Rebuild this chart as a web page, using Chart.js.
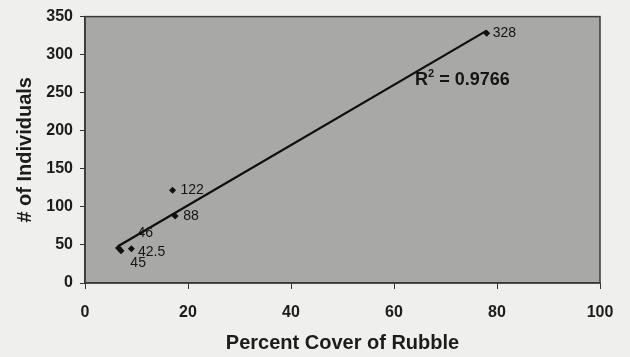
<!DOCTYPE html>
<html>
<head>
<meta charset="utf-8">
<script src="https://cdn.jsdelivr.net/npm/chart.js@4.4.1/dist/chart.umd.min.js"></script>
<style>
html,body{margin:0;padding:0;background:#efefed;}
#wrap{width:630px;height:357px;}
</style>
</head>
<body>
<div id="wrap"><canvas id="mainChart" width="630" height="357"></canvas></div>
<script>

/* DATA */

const coverX = [6.5, 7, 9, 17.5, 17, 78];

const individualsY = [46, 42.5, 45, 88, 122, 328];

const pointLabels = ["46", "42.5", "45", "88", "122", "328"];

const xTicks = [0, 20, 40, 60, 80, 100];

const yTicks = [0, 50, 100, 150, 200, 250, 300, 350];

const rSquaredText = "0.9766";

/* LINEAR TREND */

const n = coverX.length;
const mx = coverX.reduce((a,b)=>a+b,0)/n;
const my = individualsY.reduce((a,b)=>a+b,0)/n;
let sxy = 0, sxx = 0;
for(let i=0;i<n;i++){
sxy += (coverX[i]-mx)*(individualsY[i]-my);
sxx += (coverX[i]-mx)*(coverX[i]-mx);
}
const slope = sxy/sxx;
const icpt = my - slope*mx;
const xMin = Math.min(...coverX);
const xMax = Math.max(...coverX);

const trend = [
{x:xMin, y:icpt+slope*xMin},
{x:xMax, y:icpt+slope*xMax}
];

const points = coverX.map((x,i)=>({x:x, y:individualsY[i]}));

/* PLOT AREA BACKGROUND + FRAME */

const plotBg = {
id:"plotBg",
beforeDraw(chart){
const {ctx, chartArea:a} = chart;
ctx.save();
ctx.fillStyle = "#a8a8a6";
ctx.fillRect(a.left, a.top, a.right-a.left, a.bottom-a.top);
ctx.restore();
},
afterDraw(chart){
const {ctx, chartArea:a} = chart;
ctx.save();
ctx.strokeStyle = "#3a3a3a";
ctx.lineWidth = 1.5;
ctx.strokeRect(a.left, a.top, a.right-a.left, a.bottom-a.top);
ctx.restore();
}
};

/* DATA LABELS + R SQUARED */

const labelOffsets = [[19,-15],[17,1],[-1,14],[8,0],[8,0],[6,0]];

const labels = {
id:"labels",
afterDatasetsDraw(chart){
const ctx = chart.ctx;
const meta = chart.getDatasetMeta(1);
ctx.save();
ctx.fillStyle = "#151515";
ctx.font = "14px 'Liberation Sans', Arial, sans-serif";
ctx.textBaseline = "middle";
ctx.textAlign = "left";
meta.data.forEach((el,i)=>{
const o = labelOffsets[i];
ctx.fillText(pointLabels[i], el.x+o[0], el.y+o[1]);
});

const sx = chart.scales.x.getPixelForValue(64.1);
const sy = chart.scales.y.getPixelForValue(260);
ctx.textBaseline = "alphabetic";
ctx.font = "bold 18px 'Liberation Sans', Arial, sans-serif";
ctx.fillText("R", sx, sy);
let w = ctx.measureText("R").width;
ctx.font = "bold 11px 'Liberation Sans', Arial, sans-serif";
ctx.fillText("2", sx+w, sy-8);
w += ctx.measureText("2").width;
ctx.font = "bold 18px 'Liberation Sans', Arial, sans-serif";
ctx.fillText(" = " + rSquaredText, sx+w, sy);
ctx.restore();
}
};

/* CHART SETUP */

const tickFont = {family:"'Liberation Sans', Arial, sans-serif", size:16, weight:"bold"};
const titleFont = {family:"'Liberation Sans', Arial, sans-serif", size:20, weight:"bold"};

const chart = new Chart(document.getElementById("mainChart"), {

type:"scatter",

data:{

datasets:[

{
type:"line",
data:trend,
borderColor:"#0e0e0e",
borderWidth:2.2,
pointRadius:0,
fill:false
},

{
data:points,
pointStyle:"rectRot",
pointRadius:3.5,
pointBackgroundColor:"#111",
pointBorderColor:"#111",
pointBorderWidth:0
}

]

},

options:{

responsive:false,
animation:false,

layout:{
padding:{left:0, right:30, top:15, bottom:0}
},

plugins:{
legend:{display:false},
tooltip:{enabled:false}
},

scales:{

x:{
type:"linear",
min:0,
max:100,
afterBuildTicks(scale){
scale.ticks = xTicks.map(v=>({value:v}));
},
afterFit(scale){
scale.height = 74;
},
ticks:{
color:"#1c1c1c",
font:tickFont,
padding:14
},
grid:{
drawOnChartArea:false,
drawTicks:true,
tickLength:6,
color:"#333"
},
border:{
color:"#333",
width:1.5
},
title:{
display:true,
text:"Percent Cover of Rubble",
color:"#1c1c1c",
font:titleFont,
padding:2
}
},

y:{
type:"linear",
min:0,
max:350,
afterBuildTicks(scale){
scale.ticks = yTicks.map(v=>({value:v}));
},
afterFit(scale){
scale.width = 85;
},
ticks:{
color:"#1c1c1c",
font:tickFont,
padding:7
},
grid:{
drawOnChartArea:false,
drawTicks:true,
tickLength:5,
color:"#333"
},
border:{
color:"#333",
width:1.5
},
title:{
display:true,
text:"# of Individuals",
color:"#1c1c1c",
font:titleFont,
padding:13
}
}

}

},

plugins:[plotBg, labels]

});

</script>
</body>
</html>
